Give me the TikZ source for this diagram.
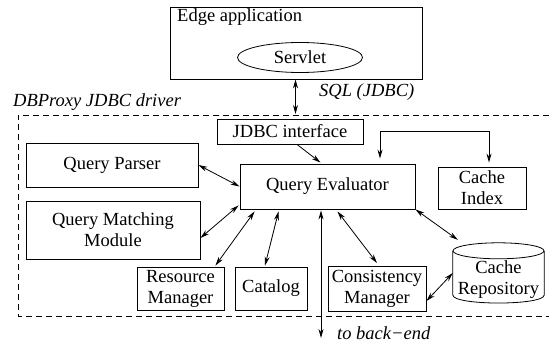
\documentclass[tikz,border=0pt]{standalone}
\usepackage{fontspec}
\setmainfont{Liberation Serif}
\usetikzlibrary{arrows.meta,calc,shapes.geometric}
\tikzset{
  txt/.style={font=\fontsize{18.5}{21}\selectfont},
  box/.style={draw, line width=0.9pt, inner sep=0pt, align=center, txt},
  conn/.style={line width=0.8pt, {Stealth[length=9pt,width=5pt]}-{Stealth[length=9pt,width=5pt]}},
  oneway/.style={line width=0.8pt, -{Stealth[length=9pt,width=5pt]}},
  frame/.style={line width=0.8pt, dash pattern=on 6pt off 4pt},
  lbl/.style={txt, font=\fontsize{18.5}{21}\selectfont\itshape, inner sep=0pt, anchor=west}
}
\begin{document}
\begin{tikzpicture}[x=1pt,y=-1pt]
\useasboundingbox (0,0) rectangle (549,345);

% driver frame
\draw[frame] (549,115) -- (18,115) -- (18,316) -- (549,316);
\node[lbl] (drv) at (13,102) {DBProxy JDBC driver};

% edge application
\node[box, minimum width=252pt, minimum height=72pt] (edge) at (296,43) {};
\node[txt, anchor=west, inner sep=0pt] (edgelbl) at (177,17) {Edge application};
\node[ellipse, draw, line width=0.8pt, inner sep=0pt, minimum width=125pt, minimum height=30pt, txt] (servlet) at (300,57.5) {Servlet};
\node[lbl] (sql) at (319,92) {SQL (JDBC)};
\coordinate (drvtop) at (295.5,114);
\draw[conn] ($(edge.south)+(-0.5,0)$) -- (drvtop);

% boxes
\node[box, minimum width=146pt, minimum height=25pt] (jdbc) at (290,131.5) {JDBC interface};
\node[box, minimum width=172pt, minimum height=44pt] (qp) at (112,165) {Query Parser};
\node[box, minimum width=174pt, minimum height=58pt] (qmm) at (113,230) {Query Matching\\Module};
\node[box, minimum width=175pt, minimum height=45pt] (qe) at (327.5,186.5) {Query Evaluator};
\node[box, minimum width=88pt, minimum height=42pt] (ci) at (482,188) {Cache\\Index};
\node[box, minimum width=87pt, minimum height=43pt] (rm) at (180.5,288.5) {Resource\\Manager};
\node[box, minimum width=72pt, minimum height=43pt] (cat) at (271,288.5) {Catalog};
\node[box, minimum width=98pt, minimum height=45pt] (cm) at (377,289) {Consistency\\Manager};

% cache repository cylinder
\node[inner sep=0pt, minimum width=91pt, minimum height=60pt] (cr) at (498.5,273) {};
\node[txt, align=center, inner sep=0pt] (crlbl) at ($(cr.center)+(0,7)$) {Cache\\Repository};
\draw[line width=0.8pt] ($(cr.north)+(0,8)$) ellipse [x radius=45.5pt, y radius=8pt];
\draw[line width=0.8pt] ($(cr.west)+(0,-22)$) -- ($(cr.west)+(0,22)$)
  .. controls ($(cr.west)+(0,32.7)$) and ($(cr.east)+(0,32.7)$) .. ($(cr.east)+(0,22)$)
  -- ($(cr.east)+(0,-22)$);

% connectors
\draw[oneway] ($(jdbc.south)+(7,0)$) -- ($(qe.north)+(-7,-1)$);
\draw[conn] ($(qe.north)+(52.5,-5)$) -- ++(0,-27) -| ($(ci.north)+(7,-4)$);
\draw[conn] (qp.east) -- (qe.west);
\draw[conn] ($(qmm.east)+(0,8)$) -- ($(qe.south west)+(-1,-4)$);
\draw[conn] ($(rm.north east)+(-9,-1)$) -- ($(qe.south west)+(15,2)$);
\draw[conn] ($(cat.north)+(-6,-1)$) -- ($(qe.south west)+(39,2)$);
\coordinate (backend) at (321,338);
\draw[conn] ($(qe.south)+(-6.5,1)$) -- (backend);
\node[lbl] (be) at (337,333) {to back−end};
\draw[conn] ($(cm.north)+(0,-3)$) -- ($(qe.south)+(10,2)$);
\draw[conn] (qe.south east) -- ($(cr.north west)+(5,-3)$);
\draw[conn] ($(cm.east)+(0,12)$) -- (cr.west);
\end{tikzpicture}
\end{document}
